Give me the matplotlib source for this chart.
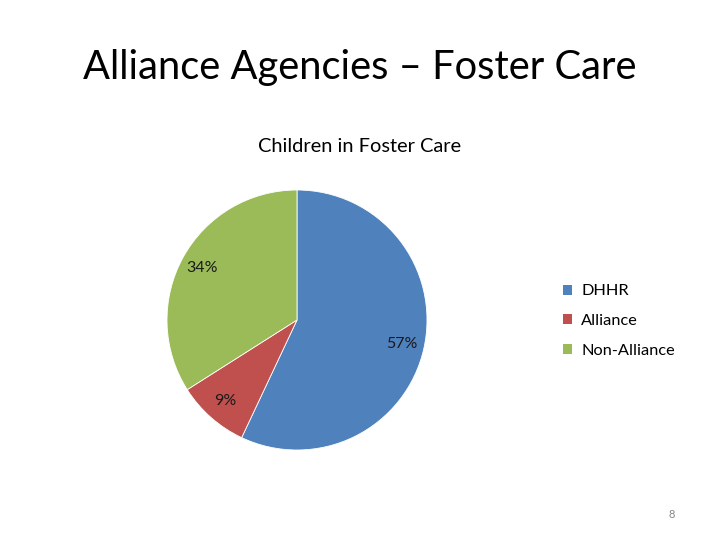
import matplotlib
matplotlib.use("Agg")
import matplotlib.pyplot as plt
from matplotlib.patches import Patch

plt.rcParams['font.family'] = ['Lato', 'DejaVu Sans']

# data
labels = ['DHHR', 'Alliance', 'Non-Alliance']
shares = [57, 9, 34]
colors = ['#4F81BD', '#C0504D', '#9BBB59']

fig = plt.figure(figsize=(7.2, 5.4), dpi=100)

fig.text(0.5, 1 - 68 / 540, 'Alliance Agencies \u2013 Foster Care',
         ha='center', va='center', fontsize=28.7, color='black')
fig.text(0.5, 1 - 146 / 540, 'Children in Foster Care',
         ha='center', va='center', fontsize=14.4, color='black')

# pie placed so its centre sits at (297, 320) px with radius 130 px
ax = fig.add_axes([167 / 720, 90 / 540, 260 / 720, 260 / 540])
wedges, texts, autotexts = ax.pie(
    shares, colors=colors, startangle=90, counterclock=False,
    autopct='%d%%', pctdistance=0.83,
    wedgeprops=dict(edgecolor='white', linewidth=0.6),
    textprops=dict(fontsize=11.5, color='#1a1a1a'))
ax.set_xlim(-1, 1)
ax.set_ylim(-1, 1)
ax.set_aspect('equal')
ax.axis('off')

handles = [Patch(facecolor=c, edgecolor='none') for c in colors]
fig.legend(handles, labels, loc='center left',
           bbox_to_anchor=(555 / 720, 1 - 321 / 540),
           frameon=False, fontsize=11.8, handlelength=0.55, handleheight=0.55,
           handletextpad=0.55, labelspacing=0.95, borderpad=0)

fig.text(672 / 720, 1 - 514 / 540, '8', ha='center', va='center',
         fontsize=8, color='#888888')

fig.savefig('out.png', dpi=100, facecolor='white')
